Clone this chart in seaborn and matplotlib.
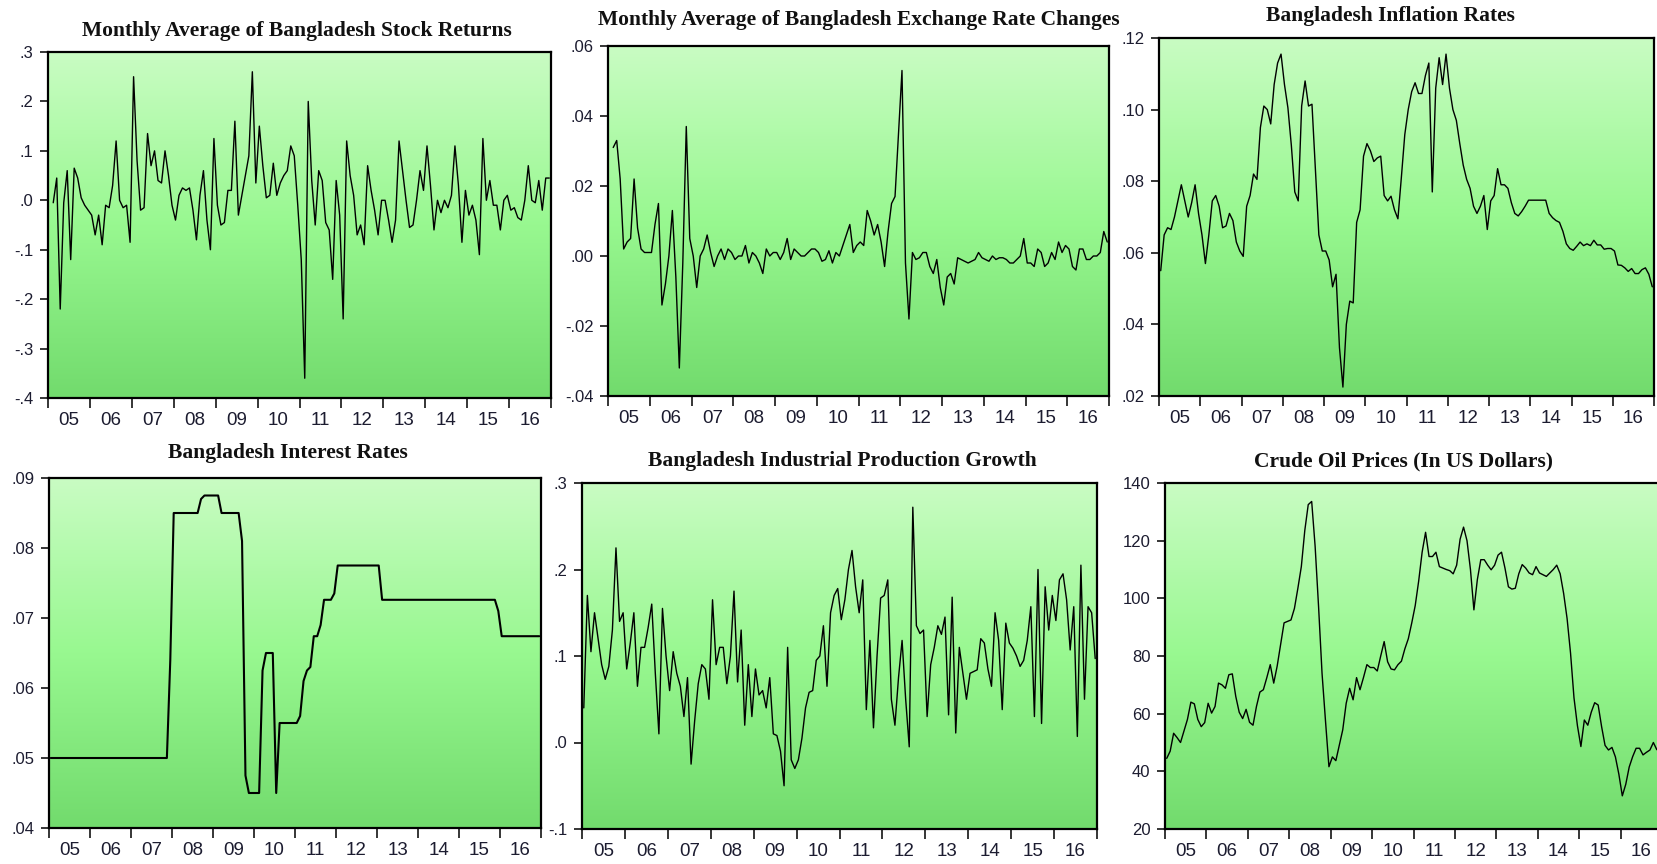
import numpy as np
import pandas as pd
import matplotlib
matplotlib.use("Agg")
import matplotlib.pyplot as plt
import seaborn as sns
from matplotlib.colors import LinearSegmentedColormap

# ---------------- data ----------------
year_labels = ['05', '06', '07', '08', '09', '10', '11', '12', '13', '14', '15', '16']

stock_returns = [
    -0.005, 0.045, -0.22, -0.005, 0.06, -0.12, 0.065, 0.045, 0.005, -0.01,
    -0.02, -0.03, -0.07, -0.03, -0.09, -0.01, -0.015, 0.03, 0.12, 0.0,
    -0.015, -0.01, -0.085, 0.25, 0.08, -0.02, -0.015, 0.135, 0.07, 0.10,
    0.04, 0.035, 0.10, 0.05, -0.01, -0.04, 0.01, 0.025, 0.02, 0.025,
    -0.02, -0.08, 0.01, 0.06, -0.04, -0.10, 0.125, -0.01, -0.05, -0.045,
    0.02, 0.02, 0.16, -0.03, 0.01, 0.05, 0.09, 0.26, 0.035, 0.15,
    0.07, 0.005, 0.01, 0.075, 0.01, 0.035, 0.05, 0.06, 0.11, 0.09,
    -0.01, -0.12, -0.36, 0.20, 0.04, -0.05, 0.06, 0.04, -0.045, -0.06,
    -0.16, 0.04, -0.03, -0.24, 0.12, 0.05, 0.01, -0.07, -0.05, -0.09,
    0.07, 0.02, -0.02, -0.07, 0.0, 0.0, -0.04, -0.085, -0.04, 0.12,
    0.06, 0.0, -0.055, -0.05, 0.0, 0.06, 0.02, 0.11, 0.03, -0.06,
    0.0, -0.025, 0.0, -0.015, 0.01, 0.11, 0.03, -0.085, 0.02, -0.03,
    -0.01, -0.04, -0.11, 0.125, 0.0, 0.04, -0.01, -0.01, -0.06, 0.0,
    0.01, -0.02, -0.015, -0.035, -0.04, 0.0, 0.07, 0.0, -0.005, 0.04,
    -0.02, 0.045, 0.045]

exchange_changes = [
    0.031, 0.033, 0.022, 0.002, 0.004, 0.005, 0.022, 0.008, 0.002, 0.001,
    0.001, 0.001, 0.009, 0.015, -0.014, -0.008, 0.0, 0.013, -0.006, -0.032,
    -0.002, 0.037, 0.005, 0.0, -0.009, 0.0, 0.002, 0.006, 0.001, -0.003,
    0.0, 0.002, -0.001, 0.002, 0.001, -0.001, 0.0, 0.0, 0.003, -0.002,
    0.001, 0.0, -0.002, -0.005, 0.002, 0.0, 0.001, 0.001, -0.001, 0.001,
    0.005, -0.001, 0.002, 0.001, 0.0, 0.0, 0.001, 0.002, 0.002, 0.001,
    -0.0015, -0.001, 0.0015, -0.002, 0.001, 0.0, 0.003, 0.006, 0.009, 0.001,
    0.003, 0.004, 0.003, 0.013, 0.010, 0.006, 0.009, 0.004, -0.003, 0.007,
    0.015, 0.017, 0.035, 0.053, -0.002, -0.018, 0.001, -0.001, -0.0005, 0.001,
    0.001, -0.003, -0.005, -0.001, -0.009, -0.014, -0.006, -0.005, -0.008, -0.0005,
    -0.001, -0.0015, -0.002, -0.0015, -0.001, 0.001, -0.0005, -0.001, -0.0015, 0.0,
    -0.001, -0.0005, -0.0005, -0.001, -0.002, -0.002, -0.001, 0.0, 0.005, -0.002,
    -0.002, -0.003, 0.002, 0.001, -0.003, -0.002, 0.001, -0.001, 0.004, 0.001,
    0.003, 0.002, -0.003, -0.004, 0.002, 0.002, -0.001, -0.001, 0.0, 0.0,
    0.001, 0.007, 0.004]

inflation = [
    0.055, 0.065, 0.067, 0.0665, 0.070, 0.0745, 0.079, 0.0745, 0.070, 0.074,
    0.079, 0.071, 0.065, 0.057, 0.065, 0.0745, 0.076, 0.073, 0.067, 0.0675,
    0.071, 0.069, 0.063, 0.0605, 0.059, 0.073, 0.076, 0.082, 0.0805, 0.095,
    0.101, 0.100, 0.096, 0.107, 0.113, 0.1155, 0.107, 0.1005, 0.090, 0.077,
    0.0745, 0.101, 0.108, 0.101, 0.1015, 0.083, 0.065, 0.0605, 0.0605, 0.058,
    0.0505, 0.054, 0.0335, 0.0225, 0.040, 0.0465, 0.046, 0.0685, 0.072, 0.087,
    0.0905, 0.0885, 0.0855, 0.0865, 0.087, 0.076, 0.0745, 0.0758, 0.072, 0.0695,
    0.081, 0.093, 0.100, 0.105, 0.1075, 0.1045, 0.1045, 0.1095, 0.113, 0.077,
    0.106, 0.1145, 0.107, 0.1155, 0.106, 0.100, 0.097, 0.0905, 0.0845, 0.0805,
    0.078, 0.073, 0.071, 0.073, 0.076, 0.0665, 0.0745, 0.076, 0.0835, 0.079,
    0.079, 0.078, 0.074, 0.071, 0.0703, 0.0715, 0.073, 0.0747, 0.0747, 0.0747,
    0.0747, 0.0747, 0.0747, 0.071, 0.0698, 0.069, 0.0685, 0.066, 0.0625, 0.0612,
    0.0607, 0.0618, 0.063, 0.062, 0.0625, 0.062, 0.0635, 0.0622, 0.0622, 0.061,
    0.0612, 0.0612, 0.0605, 0.0566, 0.0565, 0.0558, 0.0548, 0.0556, 0.0542, 0.0542,
    0.0553, 0.0558, 0.054, 0.0505]

interest_rates = [
    0.05, 0.05, 0.05, 0.05, 0.05, 0.05, 0.05, 0.05, 0.05, 0.05, 0.05, 0.05,
    0.05, 0.05, 0.05, 0.05, 0.05, 0.05, 0.05, 0.05, 0.05, 0.05, 0.05, 0.05,
    0.05, 0.05, 0.05, 0.05, 0.05, 0.05, 0.05, 0.05, 0.05, 0.05, 0.05, 0.064,
    0.085, 0.085, 0.085, 0.085, 0.085, 0.085, 0.085, 0.085, 0.087, 0.0875, 0.0875, 0.0875,
    0.0875, 0.0875, 0.085, 0.085, 0.085, 0.085, 0.085, 0.085, 0.081, 0.0475, 0.045, 0.045,
    0.045, 0.045, 0.0625, 0.065, 0.065, 0.065, 0.045, 0.055, 0.055, 0.055, 0.055, 0.055,
    0.055, 0.056, 0.061, 0.0625, 0.063, 0.0674, 0.0674, 0.069, 0.0726, 0.0726, 0.0726, 0.0735,
    0.0775, 0.0775, 0.0775, 0.0775, 0.0775, 0.0775, 0.0775, 0.0775, 0.0775, 0.0775, 0.0775, 0.0775,
    0.0775, 0.0726, 0.0726, 0.0726, 0.0726, 0.0726, 0.0726, 0.0726, 0.0726, 0.0726, 0.0726, 0.0726,
    0.0726, 0.0726, 0.0726, 0.0726, 0.0726, 0.0726, 0.0726, 0.0726, 0.0726, 0.0726, 0.0726, 0.0726,
    0.0726, 0.0726, 0.0726, 0.0726, 0.0726, 0.0726, 0.0726, 0.0726, 0.0726, 0.0726, 0.0726, 0.071,
    0.0674, 0.0674, 0.0674, 0.0674, 0.0674, 0.0674, 0.0674, 0.0674, 0.0674, 0.0674, 0.0674, 0.0674]

industrial_growth = [
    0.04, 0.17, 0.105, 0.15, 0.12, 0.09, 0.073, 0.088, 0.13, 0.225,
    0.14, 0.15, 0.085, 0.115, 0.15, 0.065, 0.11, 0.11, 0.133, 0.16,
    0.08, 0.01, 0.155, 0.10, 0.06, 0.105, 0.08, 0.065, 0.03, 0.075,
    -0.025, 0.025, 0.068, 0.09, 0.085, 0.05, 0.165, 0.09, 0.11, 0.11,
    0.068, 0.1, 0.175, 0.07, 0.13, 0.02, 0.09, 0.03, 0.085, 0.055,
    0.06, 0.04, 0.075, 0.01, 0.008, -0.01, -0.05, 0.11, -0.02, -0.03,
    -0.02, 0.005, 0.04, 0.058, 0.06, 0.095, 0.1, 0.135, 0.065, 0.15,
    0.17, 0.178, 0.142, 0.165, 0.2, 0.222, 0.18, 0.15, 0.188, 0.038,
    0.118, 0.017, 0.1, 0.167, 0.17, 0.188, 0.05, 0.02, 0.075, 0.118,
    0.05, -0.005, 0.272, 0.135, 0.126, 0.13, 0.03, 0.09, 0.11, 0.135,
    0.125, 0.145, 0.032, 0.168, 0.011, 0.11, 0.08, 0.05, 0.08, 0.082,
    0.084, 0.12, 0.115, 0.085, 0.065, 0.15, 0.118, 0.038, 0.138, 0.115,
    0.109, 0.1, 0.088, 0.095, 0.118, 0.157, 0.03, 0.2, 0.022, 0.18,
    0.13, 0.17, 0.141, 0.188, 0.195, 0.165, 0.107, 0.157, 0.007, 0.205,
    0.05, 0.157, 0.15, 0.097]

oil_prices = [
    44.5, 47, 53.2, 51.7, 50, 54, 58, 64, 63.4, 58,
    55.5, 56.9, 63.6, 60.2, 62.5, 70.6, 70, 68.8, 73.5, 73.8,
    66, 60.5, 58.3, 61.5, 57, 56, 62.5, 67.5, 68.3, 72.5,
    77, 70.6, 76.5, 84, 91.5, 92, 92.5, 96.5, 103.5, 111,
    123.5, 132.5, 133.6, 118, 97, 74, 57.5, 41.6, 45, 43.7,
    49, 54.4, 63.6, 68.8, 64.8, 72.5, 68.3, 72.5, 77, 76,
    76, 74.8, 80, 85, 78, 75.5, 75.2, 77, 78.2, 82.5,
    86, 91.5, 97.5, 106, 116, 122.9, 114.5, 114.5, 116, 111,
    110.5, 110, 109.6, 108.5, 111.5, 120.5, 124.7, 120, 110, 96,
    106.5, 113.4, 113.4, 111.5, 109.9, 111.5, 115, 116, 110.5, 104,
    103.2, 103.5, 108.5, 111.7, 110.5, 108.8, 108.2, 111, 108.8, 108.2,
    107.6, 108.8, 110, 111.5, 108.5, 101.7, 93, 81, 65.5, 55.8,
    48.6, 57.8, 56, 60.5, 63.8, 63, 55.5, 49, 47.4, 48.3,
    45, 39, 31.5, 35.5, 41.5, 45.1, 48, 48, 45.7, 46.6,
    47.4, 50, 47.5]

stock_yticks = [-0.4, -0.3, -0.2, -0.1, 0.0, 0.1, 0.2, 0.3]
exch_yticks = [-0.04, -0.02, 0.0, 0.02, 0.04, 0.06]
infl_yticks = [0.02, 0.04, 0.06, 0.08, 0.10, 0.12]
rate_yticks = [0.04, 0.05, 0.06, 0.07, 0.08, 0.09]
ip_yticks = [-0.1, 0.0, 0.1, 0.2, 0.3]
oil_yticks = [20, 40, 60, 80, 100, 120, 140]

titles = ['Monthly Average of Bangladesh Stock Returns',
          'Monthly Average of Bangladesh Exchange Rate Changes',
          'Bangladesh Inflation Rates',
          'Bangladesh Interest Rates',
          'Bangladesh Industrial Production Growth',
          'Crude Oil Prices (In US Dollars)']

# ---------------- styling ----------------
sns.set_style('ticks')
plt.rcParams['font.family'] = ['Liberation Sans', 'DejaVu Sans']

W, H = 1658, 864
fig = plt.figure(figsize=(W / 100, H / 100), dpi=100)
fig.patch.set_facecolor('white')

grad_cmap = LinearSegmentedColormap.from_list(
    'eviews', [(0.0, '#c9fcc3'), (0.5, '#98f890'), (1.0, '#72db6d')])
grad = np.linspace(0, 1, 256).reshape(-1, 1)


def month_x(start, n):
    d = pd.date_range(start, periods=n, freq='MS')
    return np.asarray(d.year + (d.month - 0.5) / 12.0)


def fmt(v, dec):
    s = f"{round(v, dec) + 0.0:.{dec}f}"
    if s.startswith('0.'):
        s = s[1:]
    elif s.startswith('-0.'):
        s = '-' + s[2:]
    return s


panels = [
    dict(vals=stock_returns, start='2005-02', ticks=stock_yticks, dec=1,
         box=(48, 52, 551, 398), txy=(297, 31), lw=1.0),
    dict(vals=exchange_changes, start='2005-02', ticks=exch_yticks, dec=2,
         box=(608, 46, 1109, 396), txy=(859, 20), lw=1.0),
    dict(vals=inflation, start='2005-01', ticks=infl_yticks, dec=2,
         box=(1159, 38, 1654, 396), txy=(1390, 16), lw=1.0),
    dict(vals=interest_rates, start='2005-01', ticks=rate_yticks, dec=2,
         box=(49, 478, 541, 828), txy=(288, 453), lw=1.5),
    dict(vals=industrial_growth, start='2005-01', ticks=ip_yticks, dec=1,
         box=(582, 483, 1097, 829), txy=(842, 461), lw=1.0),
    dict(vals=oil_prices, start='2005-01', ticks=oil_yticks, dec=0,
         box=(1165, 483, 1662, 829), txy=(1404, 461), lw=1.0),
]

for p, title in zip(panels, titles):
    l, t, r, b = p['box']
    rect = [l / W, 1 - b / H, (r - l) / W, (b - t) / H]
    bg = fig.add_axes(rect, zorder=0)
    bg.imshow(grad, aspect='auto', cmap=grad_cmap, extent=(0, 1, 0, 1),
              interpolation='bilinear')
    bg.set_axis_off()

    ax = fig.add_axes(rect, zorder=1)
    ax.set_facecolor('none')
    x = month_x(p['start'], len(p['vals']))
    sns.lineplot(x=x, y=p['vals'], ax=ax, color='black',
                 linewidth=p['lw'], estimator=None)
    ax.set_xlim(2005, 2017)
    ax.set_ylim(p['ticks'][0], p['ticks'][-1])

    ax.set_xticks(np.arange(2005, 2018))
    ax.set_xticklabels([])
    ax.set_xticks(np.arange(2005.5, 2017), minor=True)
    ax.set_xticklabels(year_labels, minor=True)
    ax.tick_params(axis='x', which='major', direction='out', length=7,
                   width=1.1, color='black')
    ax.tick_params(axis='x', which='minor', length=0, pad=10,
                   labelsize=13.5, labelcolor='#1c1c30')

    ax.set_yticks(p['ticks'])
    ax.set_yticklabels([fmt(v, p['dec']) for v in p['ticks']])
    ax.tick_params(axis='y', direction='out', length=5.5, width=1.1,
                   pad=5, labelsize=12, labelcolor='#1c1c30', color='black')

    for sp in ax.spines.values():
        sp.set_visible(True)
        sp.set_linewidth(1.6)
        sp.set_color('black')
    ax.set_xlabel('')
    ax.set_ylabel('')

    fig.text(p['txy'][0] / W, 1 - p['txy'][1] / H, title,
             ha='center', va='center', fontsize=15.5, fontweight='bold',
             family=['Liberation Serif', 'DejaVu Serif'], color='#111111')

fig.savefig('out.png', dpi=100)
